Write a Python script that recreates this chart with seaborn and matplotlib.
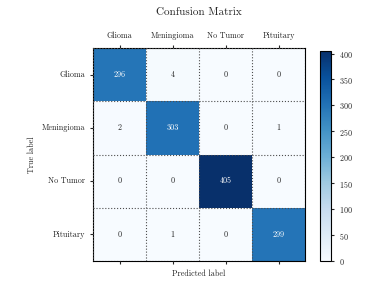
import numpy as np
import matplotlib
matplotlib.use("Agg")
import matplotlib.pyplot as plt
import seaborn as sns

classes = ["Glioma", "Meningioma", "No Tumor", "Pituitary"]
glioma_row = [296, 4, 0, 0]
meningioma_row = [2, 303, 0, 1]
notumor_row = [0, 0, 405, 0]
pituitary_row = [0, 1, 0, 299]
cbar_ticks = [0, 50, 100, 150, 200, 250, 300, 350, 400]

sns.set_style("white")
plt.rcParams["font.family"] = ["cmr10", "DejaVu Serif"]
plt.rcParams["axes.formatter.use_mathtext"] = True
plt.rcParams["font.size"] = 5.8

cm = np.array([glioma_row, meningioma_row, notumor_row, pituitary_row])

fig = plt.figure(figsize=(3.77, 2.83), dpi=100)
ax = fig.add_axes([0.247, 0.078, 0.562, 0.752])
cax = fig.add_axes([0.850, 0.078, 0.029, 0.742])

sns.heatmap(cm, annot=True, fmt="d", cmap="Blues", ax=ax, cbar_ax=cax,
            xticklabels=classes, yticklabels=classes, square=False,
            annot_kws={"fontsize": 5.8})

# dotted cell separators
n = len(classes)
ax.set_xticks(np.arange(n + 1), minor=True)
ax.set_yticks(np.arange(n + 1), minor=True)
ax.set_axisbelow(False)
ax.grid(which="minor", color="0.3", linestyle=":", linewidth=0.8)
ax.grid(which="major", visible=False)

for s in ax.spines.values():
    s.set_visible(True)
    s.set_color("black")
    s.set_linewidth(0.8)

ax.xaxis.tick_top()
ax.tick_params(axis="x", which="major", top=True, bottom=True, labeltop=True,
               labelbottom=False, length=2, width=0.8, labelsize=5.8)
ax.tick_params(axis="y", which="major", left=True, length=2, width=0.8, labelsize=5.8)
ax.tick_params(which="minor", length=0)
plt.setp(ax.get_xticklabels(), rotation=0)
plt.setp(ax.get_yticklabels(), rotation=0)
ax.set_xlabel("Predicted label", fontsize=5.8)
ax.xaxis.set_label_position("bottom")
ax.set_ylabel("True label", fontsize=5.8)
ax.set_title("Confusion Matrix", fontsize=8, pad=24)

cb = ax.collections[0].colorbar
cb.set_ticks(cbar_ticks)
cb.outline.set_visible(True)
cb.outline.set_edgecolor("black")
cb.outline.set_linewidth(0.8)
cax.tick_params(labelsize=5.8, length=2, width=0.8)

fig.savefig("out.png", dpi=100)
